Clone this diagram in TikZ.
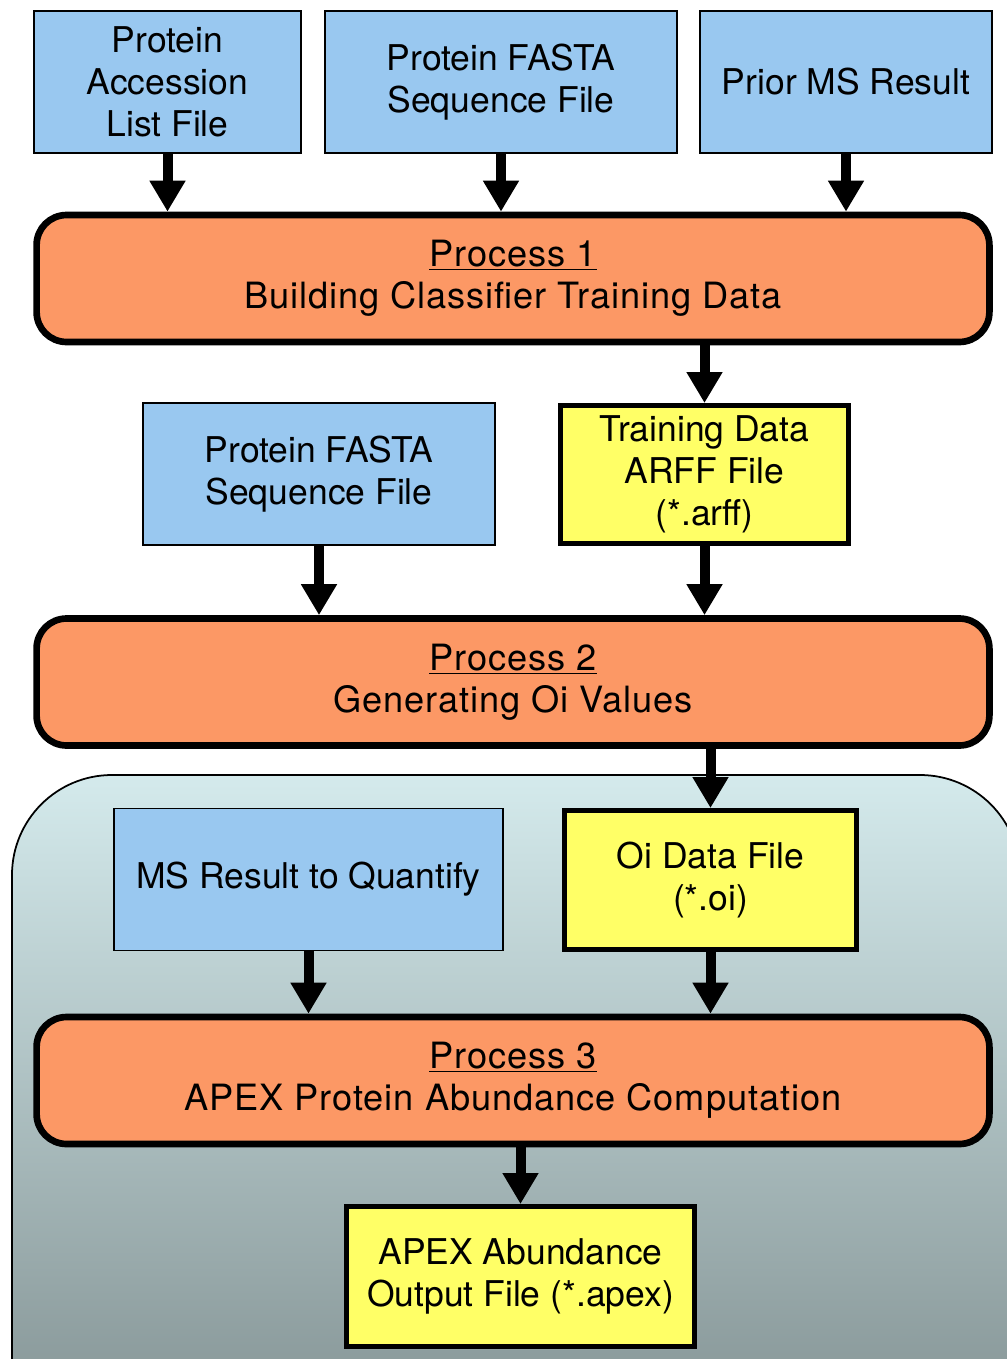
\documentclass[tikz,border=0pt]{standalone}
\usepackage{fontspec}
\setmainfont{TeX Gyre Heros}
\newfontfamily\procfont[LetterSpace=2.6]{TeX Gyre Heros}
\usetikzlibrary{arrows.meta}
\definecolor{fileblue}{RGB}{153,200,240}
\definecolor{fileyellow}{RGB}{255,255,102}
\definecolor{procorange}{RGB}{252,152,101}
\definecolor{bgtop}{RGB}{212,234,236}
\definecolor{bgmid}{RGB}{192,211,213}
\definecolor{bgbottom}{RGB}{128,143,144}

\begin{document}
\begin{tikzpicture}[x=0.02cm,y=-0.02cm,
every node/.style={font={\fontsize{20.2}{24}\selectfont},align=center,inner sep=0},
infile/.style={draw,line width=0.8pt,fill=fileblue,minimum height=2.84cm},
outfile/.style={draw,line width=2.8pt,fill=fileyellow},
process/.style={draw,line width=3.8pt,fill=procorange,rounded corners=0.6cm,
  minimum width=19.06cm,minimum height=2.54cm,font={\procfont\fontsize{20.6}{24}\selectfont}},
flow/.style={line width=0.2cm,-{Triangle[width=0.68cm,length=0.62cm]}}
]
\useasboundingbox (0,0) rectangle (1007,1359);

% shaded panel behind process 3
\begin{scope}
\clip (0,0) rectangle (1007,1359);
\draw[line width=1pt,rounded corners=2cm,top color=bgtop,middle color=bgmid,bottom color=bgbottom]
  (12,775) rectangle (1020,1460);
\end{scope}

\node[infile,minimum width=5.34cm] (acc) at (167.5,82) {Protein\\Accession\\List File};
\node[infile,minimum width=7.04cm] (fasta1) at (501,82) {Protein FASTA\\Sequence File};
\node[infile,minimum width=5.84cm] (prior) at (846,82) {Prior MS Result};
\node[process] (p1) at (513,278.5) {\underline{Process 1}\\Building Classifier Training Data};

\node[infile,minimum width=7.04cm] (fasta2) at (319,474) {Protein FASTA\\Sequence File};
\node[outfile,minimum width=5.76cm,minimum height=2.76cm] (arff) at (704.5,474.5) {Training Data\\ARFF File\\(*.arff)};
\node[process] (p2) at (513,682) {\underline{Process 2}\\Generating Oi Values};

\node[infile,minimum width=7.78cm] (msq) at (308.5,879.5) {MS Result to Quantify};
\node[outfile,minimum width=5.84cm,minimum height=2.78cm] (oi) at (710.5,880) {Oi Data File\\(*.oi)};
\node[process] (p3) at (513,1080.5) {\underline{Process 3}\\APEX Protein Abundance Computation};

\node[outfile,minimum width=6.96cm,minimum height=2.8cm] (apex) at (520.5,1276.5) {APEX Abundance\\Output File (*.apex)};

\foreach \n in {acc,fasta1,prior}
  \draw[flow] (\n.south) -- (\n.south |- p1.north);
\draw[flow] (arff.north |- p1.south) -- (arff.north);
\foreach \n in {fasta2,arff}
  \draw[flow] (\n.south) -- (\n.south |- p2.north);
\draw[flow] (oi.north |- p2.south) -- (oi.north);
\foreach \n in {msq,oi}
  \draw[flow] (\n.south) -- (\n.south |- p3.north);
\draw[flow] (apex.north |- p3.south) -- (apex.north);
\end{tikzpicture}
\end{document}
